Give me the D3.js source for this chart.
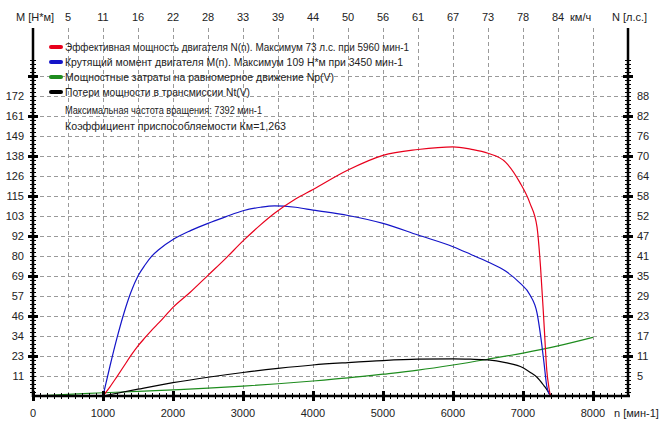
<!DOCTYPE html>
<html><head><meta charset="utf-8">
<script src="https://cdn.jsdelivr.net/npm/d3@7"></script>
<style>
body{margin:0;background:#fff}
svg{display:block}
text{font-family:"Liberation Sans",Arial,sans-serif;font-size:11px;fill:#222}
</style>
</head><body><svg id="c" width="663" height="427"></svg>
<script>
// ---- data ----
const rpmEngine = [1000,1100,1200,1300,1400,1500,1600,1700,1800,2000,2250,2500,2750,3000,3250,3450,3750,4000,4500,5000,5500,6000,6250,6500,6750,6950,7100,7200,7250,7300,7340,7370,7392];
const torque    = [0,17.2,33.3,47.6,59.6,68.8,75.1,80.3,84,89.7,94.8,99,102.7,106.2,108.2,109,108.2,106.6,103.5,99,92.3,85.6,81.3,76.8,71.6,65,57.9,47.6,35,19,5.5,1.5,0];
const power     = [0,2.7,5.7,8.8,11.9,14.7,17.1,19.4,21.5,26,30.5,35.4,40.3,45.5,50.2,53.6,57.8,60.6,66.3,70.6,72.3,73.1,72.4,71.2,68.6,62.8,56.5,49.6,38,21.3,7.5,2.5,0];
const rpmRoad   = [0,500,1000,1500,2000,2500,3000,3500,4000,4500,5000,5500,6000,6500,7000,7500,8000];
const roadPower = [0,0.45,0.95,1.35,1.8,2.3,2.9,3.6,4.4,5.3,6.4,7.6,9.1,10.8,12.6,14.7,17.2];
const rpmTrans  = [1000,1500,2000,2500,3000,3500,4000,4500,5000,5500,6000,6250,6500,6750,7000,7100,7200,7300,7350,7392];
const transLoss = [0,2,3.9,5.5,6.9,8.1,9.1,9.8,10.4,10.8,10.9,10.8,10.6,9.8,8.3,7,5.5,3,1.6,0.2];

const torqueTicks = ["11","23","34","46","57","69","80","92","103","115","126","138","149","161","172"];
const powerTicks  = ["5","11","17","23","29","35","41","47","52","58","64","70","76","82","88"];
const speedTicks  = ["5","11","16","22","28","33","39","44","50","56","61","67","73","78","84"];
const rpmTicks    = [0,1000,2000,3000,4000,5000,6000,7000,8000];

const legendLabels = [
  "Эффективная мощность двигателя N(n). Максимум 73 л.с. при 5960 мин-1",
  "Крутящий момент двигателя M(n). Максимум 109 Н*м при 3450 мин-1",
  "Мощностные затраты на равномерное движение Np(V)",
  "Потери мощности в трансмиссии Nt(V)"
];
const legendColors = ["#e8001c","#1414c8","#1e8c1e","#000000"];
const notes = ["Максимальная частота вращения: 7392 мин-1","Коэффициент приспособляемости Км=1,263"];
const legendWidths = [344,338,269,185];
const noteWidths = [197,221];

// ---- scales ----
const svg = d3.select("#c");
const x = d3.scaleLinear().domain([0,8500]).range([33,628]);
const yM = d3.scaleLinear().domain([0,172]).range([396,96]);
const yN = d3.scaleLinear().domain([0,88]).range([396,96]);
const yG = d3.scaleLinear().domain([0,15]).range([396,96]); // grid index
const yTop = 28;

// ---- grid ----
const grid = svg.append("g").attr("stroke","#9a9a9a").attr("stroke-dasharray","4,3").attr("stroke-width",1);
grid.selectAll("line.v").data(d3.range(500,8001,500)).join("line")
  .attr("x1",d=>Math.round(x(d))+0.5).attr("x2",d=>Math.round(x(d))+0.5)
  .attr("y1",yTop).attr("y2",396);
grid.selectAll("line.h").data(d3.range(1,17)).join("line")
  .attr("x1",33).attr("x2",628)
  .attr("y1",d=>Math.round(yG(d))+0.5).attr("y2",d=>Math.round(yG(d))+0.5);

// ---- curves ----
const gC = svg.append("g").attr("fill","none").attr("stroke-width",1.2);
const mk = (xs,ys,ys2)=>d3.line().curve(d3.curveMonotoneX).x((d,i)=>x(xs[i])).y((d,i)=>ys2(ys[i]))(ys);
gC.append("path").attr("d",mk(rpmRoad,roadPower,yN)).attr("stroke",legendColors[2]);
gC.append("path").attr("d",mk(rpmTrans,transLoss,yN)).attr("stroke",legendColors[3]);
gC.append("path").attr("d",mk(rpmEngine,torque,yM)).attr("stroke",legendColors[1]);
gC.append("path").attr("d",mk(rpmEngine,power,yN)).attr("stroke",legendColors[0]);

// ---- axes ----
const ax = svg.append("g").attr("stroke","#000");
ax.append("line").attr("x1",33).attr("x2",33).attr("y1",yTop).attr("y2",397).attr("stroke-width",2.5);
ax.append("line").attr("x1",628).attr("x2",628).attr("y1",yTop).attr("y2",397).attr("stroke-width",2.5);
ax.append("line").attr("x1",32).attr("x2",630).attr("y1",396).attr("y2",396).attr("stroke-width",2.5);
const vMinor = d3.range(1,85).map(i=>i/5);
[33,628].forEach(ax0=>{
  ax.selectAll(null).data(vMinor.filter(v=>yG(v)>=yTop+2)).join("line")
    .attr("x1",ax0-3).attr("x2",ax0+3)
    .attr("y1",d=>Math.round(yG(d))+0.5).attr("y2",d=>Math.round(yG(d))+0.5).attr("stroke-width",1);
  ax.selectAll(null).data(d3.range(2,17,2)).join("line")
    .attr("x1",ax0-5).attr("x2",ax0+5)
    .attr("y1",d=>Math.round(yG(d))+0.5).attr("y2",d=>Math.round(yG(d))+0.5).attr("stroke-width",3);
});
ax.selectAll(null).data(d3.range(100,8500,100)).join("line")
  .attr("x1",d=>Math.round(x(d))+0.5).attr("x2",d=>Math.round(x(d))+0.5)
  .attr("y1",393).attr("y2",399).attr("stroke-width",1);
ax.selectAll(null).data(rpmTicks).join("line")
  .attr("x1",d=>Math.round(x(d))+0.5).attr("x2",d=>Math.round(x(d))+0.5)
  .attr("y1",391).attr("y2",401).attr("stroke-width",3);

// ---- tick labels ----
svg.selectAll("text.lt").data(torqueTicks).join("text").attr("class","lt")
  .attr("x",24).attr("y",(d,i)=>yG(i+1)).attr("dy","0.35em").attr("text-anchor","end").text(d=>d);
svg.selectAll("text.rt").data(powerTicks).join("text").attr("class","rt")
  .attr("x",637).attr("y",(d,i)=>yG(i+1)).attr("dy","0.35em").text(d=>d);
svg.selectAll("text.bt").data(rpmTicks).join("text").attr("class","bt")
  .attr("x",d=>x(d)).attr("y",413).attr("dy","0.35em").attr("text-anchor","middle").text(d=>d);
svg.selectAll("text.tt").data(speedTicks).join("text").attr("class","tt")
  .attr("x",(d,i)=>x(500*(i+1))).attr("y",17).attr("dy","0.35em").attr("text-anchor","middle").text(d=>d);
svg.append("text").attr("x",x(7500)+12).attr("y",17).attr("dy","0.35em").text("км/ч");
svg.append("text").attr("x",16).attr("y",17).attr("dy","0.35em").text("M [Н*м]");
svg.append("text").attr("x",612).attr("y",17).attr("dy","0.35em").text("N [л.с.]");
svg.append("text").attr("x",614).attr("y",413).attr("dy","0.35em").text("n [мин-1]");

// ---- legend ----
const lg = svg.append("g");
const rowsY = [47,62,77,92];
legendLabels.forEach((t,i)=>{
  lg.append("line").attr("x1",51).attr("x2",61).attr("y1",rowsY[i]).attr("y2",rowsY[i])
    .attr("stroke",legendColors[i]).attr("stroke-width",4).attr("stroke-linecap","round");
  lg.append("text").attr("x",65).attr("y",rowsY[i]).attr("dy","0.35em")
    .attr("textLength",legendWidths[i]).attr("lengthAdjust","spacingAndGlyphs").text(t);
});
[110,126].forEach((yy,i)=>{
  lg.append("text").attr("x",65).attr("y",yy).attr("dy","0.35em")
    .attr("textLength",noteWidths[i]).attr("lengthAdjust","spacingAndGlyphs").text(notes[i]);
});
</script>
</body></html>
